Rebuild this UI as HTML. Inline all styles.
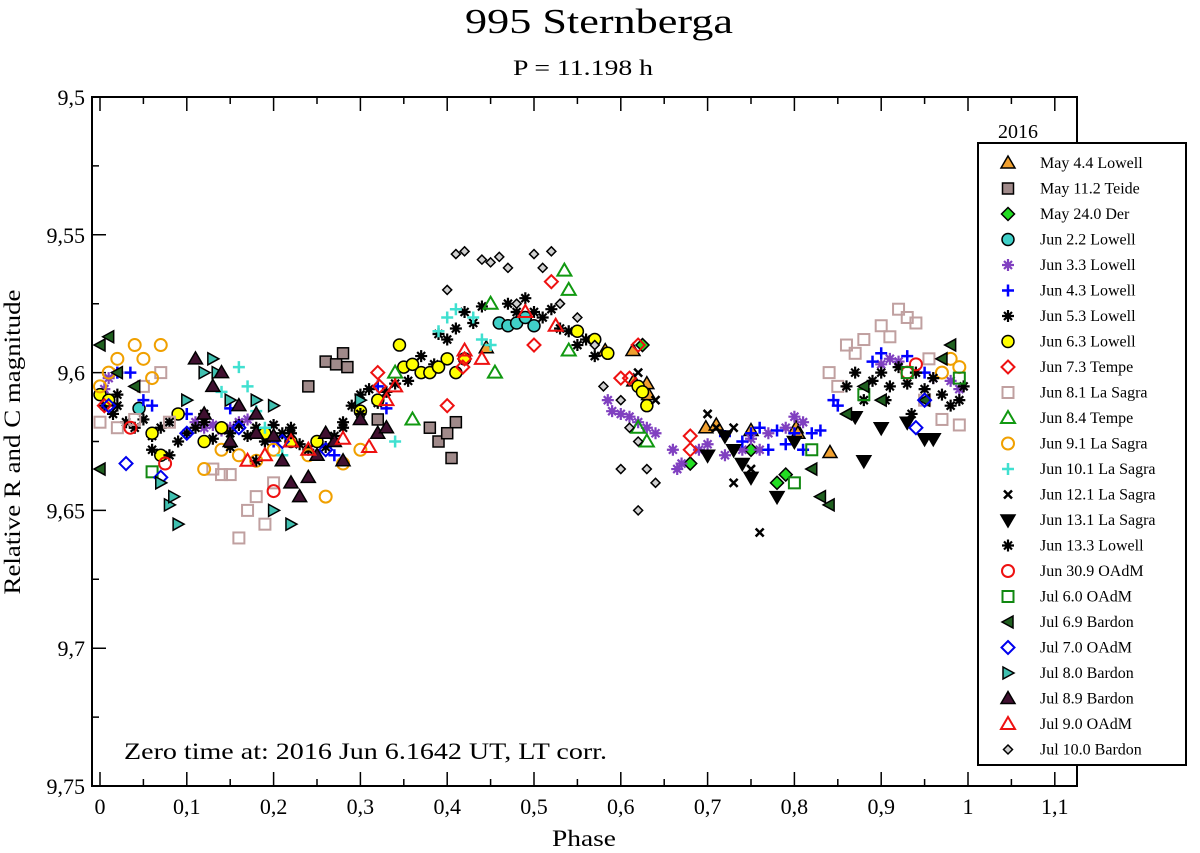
<!DOCTYPE html>
<html><head><meta charset="utf-8"><style>
body{margin:0;background:#fff;}
svg{display:block;font-family:"Liberation Serif",serif;}
</style></head><body>
<svg id="chart" width="1200" height="853" viewBox="0 0 1200 853" xmlns="http://www.w3.org/2000/svg">
<text x="465" y="33" font-size="35" textLength="268" lengthAdjust="spacingAndGlyphs">995 Sternberga</text>
<text x="513" y="75" font-size="22" textLength="140" lengthAdjust="spacingAndGlyphs">P = 11.198 h</text>
<g id="axes"></g>
<g id="marks"></g>
<text x="552" y="846" font-size="23" textLength="64" lengthAdjust="spacingAndGlyphs">Phase</text>
<text transform="translate(20,442) rotate(-90)" font-size="23" text-anchor="middle" textLength="305" lengthAdjust="spacingAndGlyphs">Relative R and C magnitude</text>
<text x="124" y="759" font-size="23" textLength="483" lengthAdjust="spacingAndGlyphs">Zero time at: 2016 Jun 6.1642 UT, LT corr.</text>
<g id="legend"></g>
</svg>
<script>
const xTicks=[0,0.1,0.2,0.3,0.4,0.5,0.6,0.7,0.8,0.9,1,1.1];
const xTickLabels=["0","0,1","0,2","0,3","0,4","0,5","0,6","0,7","0,8","0,9","1","1,1"];
const yTicks=[9.5,9.55,9.6,9.65,9.7,9.75];
const yTickLabels=["9,5","9,55","9,6","9,65","9,7","9,75"];
const seriesNames=["May 4.4 Lowell","May 11.2 Teide","May 24.0 Der","Jun 2.2 Lowell","Jun 3.3 Lowell","Jun 4.3 Lowell","Jun 5.3 Lowell","Jun 6.3 Lowell","Jun 7.3 Tempe","Jun 8.1 La Sagra","Jun 8.4 Tempe","Jun 9.1 La Sagra","Jun 10.1 La Sagra","Jun 12.1 La Sagra","Jun 13.1 La Sagra","Jun 13.3 Lowell","Jun 30.9 OAdM","Jul 6.0 OAdM","Jul 6.9 Bardon","Jul 7.0 OAdM","Jul 8.0 Bardon","Jul 8.9 Bardon","Jul 9.0 OAdM","Jul 10.0 Bardon"];
const may44=[[0.445,9.591],[0.582,9.592],[0.614,9.592],[0.615,9.603],[0.632,9.608],[0.698,9.62],[0.71,9.619],[0.75,9.621],[0.802,9.62],[0.804,9.622],[0.841,9.629],[0.63,9.604]];
const may112=[[0.24,9.605],[0.26,9.596],[0.272,9.597],[0.28,9.593],[0.285,9.598],[0.32,9.617],[0.38,9.62],[0.39,9.625],[0.4,9.622],[0.405,9.631],[0.41,9.618]];
const may240=[[0.625,9.59],[0.68,9.633],[0.78,9.64],[0.79,9.637],[0.75,9.628]];
const jun22=[[0.46,9.582],[0.47,9.583],[0.48,9.582],[0.49,9.58],[0.5,9.583],[0.045,9.613]];
const jun33=[[0.005,9.606],[0.01,9.602],[0.02,9.6],[0.11,9.618],[0.12,9.62],[0.13,9.619],[0.14,9.621],[0.15,9.62],[0.16,9.618],[0.17,9.617],[0.585,9.61],[0.59,9.614],[0.6,9.615],[0.61,9.616],[0.62,9.618],[0.63,9.62],[0.64,9.622],[0.66,9.628],[0.665,9.635],[0.67,9.633],[0.69,9.628],[0.7,9.626],[0.72,9.63],[0.74,9.628],[0.75,9.624],[0.76,9.628],[0.77,9.622],[0.79,9.62],[0.8,9.616],[0.81,9.618],[0.9,9.597],[0.91,9.595],[0.92,9.596],[0.94,9.6],[0.96,9.602],[0.98,9.603],[0.99,9.606]];
const jun43=[[0.02,9.6],[0.035,9.6],[0.05,9.61],[0.06,9.612],[0.1,9.615],[0.15,9.613],[0.2,9.625],[0.27,9.63],[0.32,9.605],[0.33,9.613],[0.72,9.623],[0.74,9.625],[0.75,9.622],[0.76,9.62],[0.77,9.628],[0.78,9.621],[0.79,9.626],[0.8,9.622],[0.81,9.628],[0.82,9.622],[0.83,9.621],[0.845,9.61],[0.85,9.612],[0.89,9.596],[0.9,9.593],[0.93,9.594],[0.95,9.6]];
const jun53=[[0.005,9.612],[0.015,9.615],[0.02,9.608],[0.03,9.618],[0.04,9.62],[0.05,9.617],[0.06,9.623],[0.07,9.62],[0.08,9.618],[0.09,9.625],[0.1,9.622],[0.11,9.62],[0.12,9.618],[0.13,9.624],[0.14,9.62],[0.15,9.622],[0.16,9.619],[0.17,9.623],[0.18,9.62],[0.19,9.625],[0.2,9.619],[0.21,9.622],[0.22,9.62],[0.23,9.626],[0.24,9.628],[0.26,9.627],[0.27,9.623],[0.28,9.618],[0.29,9.612],[0.3,9.608],[0.31,9.606],[0.32,9.611],[0.33,9.607],[0.34,9.604],[0.355,9.603],[0.37,9.594],[0.38,9.6],[0.385,9.597],[0.39,9.586],[0.4,9.588],[0.41,9.584],[0.42,9.578],[0.43,9.582],[0.44,9.576],[0.47,9.575],[0.48,9.578],[0.49,9.573],[0.5,9.578],[0.51,9.58],[0.52,9.577],[0.53,9.584],[0.54,9.585],[0.55,9.59],[0.56,9.588],[0.57,9.594]];
const jun63=[[0.0,9.608],[0.01,9.61],[0.06,9.622],[0.07,9.63],[0.09,9.615],[0.12,9.625],[0.14,9.62],[0.19,9.622],[0.22,9.625],[0.25,9.625],[0.3,9.614],[0.32,9.61],[0.345,9.59],[0.35,9.598],[0.36,9.597],[0.37,9.6],[0.38,9.6],[0.39,9.598],[0.4,9.595],[0.41,9.6],[0.42,9.595],[0.55,9.585],[0.57,9.588],[0.585,9.593],[0.62,9.605],[0.625,9.607],[0.63,9.612]];
const jun73=[[0.32,9.6],[0.322,9.605],[0.4,9.612],[0.42,9.595],[0.418,9.598],[0.5,9.59],[0.6,9.602],[0.61,9.602],[0.52,9.567],[0.62,9.59],[0.68,9.623],[0.68,9.628],[0.005,9.612]];
const jun81=[[0.0,9.618],[0.02,9.62],[0.04,9.617],[0.05,9.605],[0.07,9.6],[0.13,9.635],[0.14,9.637],[0.15,9.637],[0.16,9.66],[0.17,9.65],[0.18,9.645],[0.19,9.655],[0.2,9.64],[0.08,9.618],[0.84,9.6],[0.85,9.605],[0.86,9.59],[0.87,9.593],[0.88,9.588],[0.9,9.583],[0.91,9.587],[0.92,9.577],[0.93,9.58],[0.94,9.582],[0.95,9.61],[0.97,9.617],[0.99,9.619],[0.955,9.595]];
const jun84=[[0.34,9.6],[0.36,9.617],[0.45,9.575],[0.455,9.6],[0.535,9.563],[0.54,9.57],[0.54,9.592],[0.62,9.62],[0.63,9.625]];
const jun91=[[0.0,9.605],[0.01,9.6],[0.02,9.595],[0.04,9.59],[0.05,9.595],[0.07,9.59],[0.06,9.602],[0.12,9.635],[0.14,9.628],[0.16,9.63],[0.18,9.632],[0.2,9.628],[0.24,9.63],[0.26,9.645],[0.28,9.633],[0.3,9.628],[0.97,9.6],[0.98,9.595],[0.99,9.598]];
const jun101=[[0.14,9.607],[0.16,9.598],[0.17,9.605],[0.18,9.614],[0.19,9.62],[0.34,9.625],[0.39,9.585],[0.4,9.58],[0.41,9.577],[0.43,9.58],[0.44,9.588],[0.45,9.59],[0.21,9.63]];
const jun121=[[0.62,9.6],[0.7,9.615],[0.71,9.62],[0.73,9.62],[0.75,9.635],[0.76,9.658],[0.64,9.61],[0.73,9.64]];
const jun131=[[0.72,9.623],[0.73,9.628],[0.74,9.633],[0.75,9.638],[0.78,9.645],[0.8,9.625],[0.87,9.616],[0.88,9.632],[0.9,9.62],[0.93,9.618],[0.95,9.624],[0.96,9.624],[0.7,9.63]];
const jun133=[[0.86,9.605],[0.87,9.6],[0.88,9.61],[0.89,9.603],[0.9,9.6],[0.91,9.605],[0.92,9.598],[0.93,9.604],[0.94,9.6],[0.95,9.606],[0.96,9.602],[0.97,9.608],[0.98,9.612],[0.99,9.61],[0.995,9.605],[0.935,9.615],[0.905,9.61],[0.02,9.612],[0.06,9.628],[0.08,9.63],[0.12,9.615],[0.15,9.627],[0.18,9.632],[0.22,9.622],[0.28,9.62],[0.3,9.615]];
const jun309=[[0.035,9.62],[0.075,9.633],[0.2,9.643],[0.93,9.6],[0.94,9.597]];
const jul60=[[0.06,9.636],[0.8,9.64],[0.82,9.628],[0.88,9.608],[0.93,9.6],[0.99,9.602]];
const jul69=[[0.0,9.59],[0.01,9.587],[0.02,9.6],[0.04,9.605],[0.0,9.635],[0.82,9.635],[0.83,9.645],[0.84,9.648],[0.86,9.615],[0.88,9.605],[0.9,9.61],[0.95,9.61],[0.97,9.595],[0.98,9.59]];
const jul70=[[0.01,9.612],[0.03,9.633],[0.07,9.638],[0.1,9.622],[0.16,9.62],[0.21,9.625],[0.26,9.628],[0.95,9.61],[0.94,9.62]];
const jul80=[[0.13,9.595],[0.15,9.61],[0.12,9.6],[0.1,9.61],[0.135,9.6],[0.18,9.61],[0.2,9.65],[0.22,9.655],[0.07,9.64],[0.08,9.648],[0.09,9.655],[0.085,9.645],[0.2,9.612],[0.3,9.61]];
const jul89=[[0.11,9.595],[0.13,9.605],[0.14,9.6],[0.16,9.612],[0.18,9.615],[0.2,9.623],[0.21,9.632],[0.22,9.64],[0.24,9.638],[0.25,9.63],[0.27,9.625],[0.28,9.632],[0.3,9.617],[0.32,9.622],[0.33,9.62],[0.12,9.615],[0.15,9.625],[0.18,9.622],[0.23,9.645],[0.26,9.622]];
const jul90=[[0.17,9.632],[0.19,9.63],[0.22,9.625],[0.24,9.628],[0.28,9.624],[0.31,9.627],[0.33,9.61],[0.34,9.605],[0.42,9.592],[0.44,9.595],[0.49,9.578],[0.525,9.583]];
const jul100=[[0.41,9.557],[0.42,9.556],[0.44,9.559],[0.45,9.56],[0.46,9.558],[0.47,9.562],[0.5,9.557],[0.51,9.562],[0.52,9.556],[0.4,9.57],[0.48,9.575],[0.53,9.575],[0.6,9.61],[0.61,9.62],[0.62,9.625],[0.63,9.635],[0.64,9.64],[0.6,9.635],[0.62,9.65],[0.58,9.605],[0.55,9.58],[0.57,9.59]];
const seriesData=[may44,may112,may240,jun22,jun33,jun43,jun53,jun63,jun73,jun81,jun84,jun91,jun101,jun121,jun131,jun133,jun309,jul60,jul69,jul70,jul80,jul89,jul90,jul100];

const styles=[
 ["triU","#f0a030","#000"],["sq","#a08a8a","#000"],["dia","#22dd22","#000"],["circ","#40d0c8","#000"],
 ["star","none","#8040c0"],["plus","none","#0000ff"],["star","none","#000"],["circ","#ffff00","#000"],
 ["dia","none","#ee1111"],["sq","none","#c0a0a0"],["triU","none","#119911"],["circ","none","#f0a000"],
 ["plus","none","#40e0d0"],["x","none","#000"],["triD","#000","#000"],["star","none","#000"],
 ["circ","none","#ee1111"],["sq","none","#118811"],["triL","#206020","#000"],["dia","none","#0000ee"],
 ["triR","#40c0b0","#000"],["triU","#401030","#000"],["triU","none","#ee1111"],["diaS","#d0d0d0","#000"]];

const X=p=>100+p*868, Y=m=>97+(m-9.5)*2756;
const NS="http://www.w3.org/2000/svg";
function mk(tag,attrs,parent){const e=document.createElementNS(NS,tag);for(const k in attrs)e.setAttribute(k,attrs[k]);parent.appendChild(e);return e;}
function marker(kind,fill,stroke,cx,cy,parent){
 const r=6;let e;const sw=(fill==="none")?2:1.5;
 const base={fill:fill,stroke:stroke,"stroke-width":sw};
 if(kind==="circ"){e=mk("circle",Object.assign({cx:cx,cy:cy,r:r},base),parent);}
 else if(kind==="sq"){e=mk("rect",Object.assign({x:cx-r+0.5,y:cy-r+0.5,width:2*r-1,height:2*r-1},base),parent);}
 else if(kind==="dia"||kind==="diaS"){const q=kind==="diaS"?4.5:r+0.5;e=mk("polygon",Object.assign({points:`${cx},${cy-q} ${cx+q},${cy} ${cx},${cy+q} ${cx-q},${cy}`},base),parent);}
 else if(kind==="triU"){e=mk("polygon",Object.assign({points:`${cx},${cy-r-1} ${cx+r+1},${cy+r-1} ${cx-r-1},${cy+r-1}`},base),parent);}
 else if(kind==="triD"){e=mk("polygon",Object.assign({points:`${cx},${cy+r+1} ${cx+r+1},${cy-r+1} ${cx-r-1},${cy-r+1}`},base),parent);}
 else if(kind==="triL"){e=mk("polygon",Object.assign({points:`${cx-r},${cy} ${cx+r-1},${cy-r} ${cx+r-1},${cy+r}`},base),parent);}
 else if(kind==="triR"){e=mk("polygon",Object.assign({points:`${cx+r},${cy} ${cx-r+1},${cy-r} ${cx-r+1},${cy+r}`},base),parent);}
 else if(kind==="plus"){e=mk("path",{d:`M${cx-r},${cy}H${cx+r}M${cx},${cy-r}V${cy+r}`,stroke:stroke,"stroke-width":2.5,fill:"none"},parent);}
 else if(kind==="x"){e=mk("path",{d:`M${cx-4},${cy-4}L${cx+4},${cy+4}M${cx-4},${cy+4}L${cx+4},${cy-4}`,stroke:stroke,"stroke-width":2.5,fill:"none"},parent);}
 else {e=mk("path",{d:`M${cx-r},${cy}H${cx+r}M${cx},${cy-r}V${cy+r}M${cx-4},${cy-4}L${cx+4},${cy+4}M${cx-4},${cy+4}L${cx+4},${cy-4}`,stroke:stroke,"stroke-width":2.2,fill:"none"},parent);}
 return e;
}
const axes=document.getElementById('axes');
const frame=mk("rect",{x:92,y:97,width:985,height:689,fill:"none",stroke:"#000","stroke-width":2},axes);


xTicks.forEach((t,i)=>{
 const x=X(t);
 const minor=(i<xTicks.length-1)?`M${x+43.4},786v-7M${x+43.4},97v7`:"";
 const tk=mk("path",{d:`M${x},786v-14M${x},97v14`+minor,stroke:"#000","stroke-width":1.5},axes);
 
 
 const lb=mk("text",{x:x,y:814,"font-size":22,"text-anchor":"middle"},axes);lb.textContent=xTickLabels[i];
 
 
});
yTicks.forEach((t,i)=>{
 const y=Y(t);
 const tk=mk("path",{d:`M92,${y}h14M1077,${y}h-14`+(i<yTicks.length-1?`M92,${y+68.9}h7M1077,${y+68.9}h-7`:""),stroke:"#000","stroke-width":1.5},axes);
 
 
 const lb=mk("text",{x:85,y:y+8,"font-size":22,"text-anchor":"end"},axes);lb.textContent=yTickLabels[i];
 
 
});
const marks=document.getElementById('marks');
seriesData.forEach((arr,si)=>{
 const g=mk("g",{},marks);
 
 
 const s=styles[si];
 arr.forEach(pt=>{
  const m=marker(s[0],s[1],s[2],X(pt[0]),Y(pt[1]),g);
  
  
 });
});
const leg=document.getElementById('legend');
const lbox=mk("rect",{x:978,y:143,width:208,height:622,fill:"#fff",stroke:"#000","stroke-width":2},leg);


const lt=mk("text",{x:1018,y:138,"font-size":20,"text-anchor":"middle"},leg);lt.textContent="2016";


seriesNames.forEach((n,i)=>{
 const y=163+i*25.5;
 const g=mk("g",{},leg);
 
 
 const s=styles[i];
 marker(s[0],s[1],s[2],1008,y,g);
 const t=mk("text",{x:1040,y:y+5,"font-size":16},g);t.textContent=n;
});
</script>
</body></html>
